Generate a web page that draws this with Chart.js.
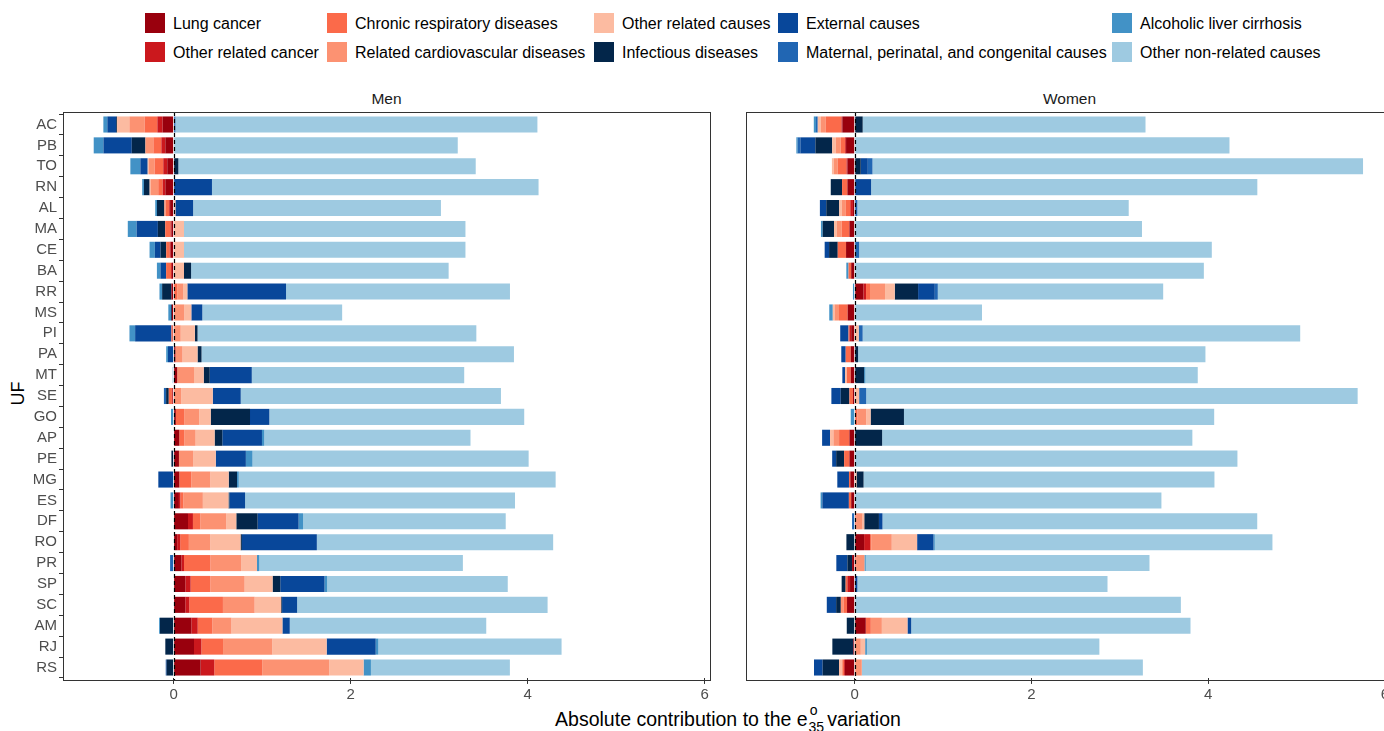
<!DOCTYPE html>
<html>
<head>
<meta charset="utf-8">
<script src="https://cdn.jsdelivr.net/npm/chart.js@4/dist/chart.umd.min.js"></script>
<style>
  html, body { margin: 0; padding: 0; background: #fff; overflow: hidden; }
  body { width: 1384px; height: 731px; position: relative; font-family: "Liberation Sans", Arial, sans-serif; }
  canvas { position: absolute; top: 0; }
  .sw { position: absolute; width: 20px; height: 20px; }
  .lt { position: absolute; font-size: 16px; color: #000; line-height: 22px; white-space: nowrap; }
  .strip { position: absolute; top: 90px; font-size: 15.5px; color: #1a1a1a; text-align: center; }
  .os { position: relative; display: inline-block; width: 1.0em; height: 1em; }
  .os .o { position: absolute; left: 0.15em; top: -0.28em; font-size: 0.72em; }
  .os .n { position: absolute; left: 0.05em; top: 0.9em; font-size: 0.72em; }
</style>
</head>
<body>
<div id="legend"></div>
<div class="strip" style="left:63px;width:647px">Men</div>
<div class="strip" style="left:746px;width:647px">Women</div>
<div style="position:absolute;left:-2px;top:383px;width:40px;text-align:center;font-size:18px;transform:rotate(-90deg);">UF</div>
<div style="position:absolute;left:428px;width:600px;top:706px;text-align:center;font-size:19.5px;white-space:nowrap;">Absolute contribution to the e<span class="os"><span class="o">o</span><span class="n">35</span></span>variation</div>
<canvas id="men" width="720" height="731" style="left:0"></canvas>
<canvas id="women" width="660" height="731" style="left:746px"></canvas>
<script>
// states, top to bottom
const states = ['AC','PB','TO','RN','AL','MA','CE','BA','RR','MS','PI','PA','MT','SE','GO','AP','PE','MG','ES','DF','RO','PR','SP','SC','AM','RJ','RS'];

const causes = ['Lung cancer','Other related cancer','Chronic respiratory diseases','Related cardiovascular diseases',
  'Other related causes','Infectious diseases','External causes','Maternal, perinatal, and congenital causes',
  'Alcoholic liver cirrhosis','Other non-related causes'];
const causeColors = ['#99000d','#cb181d','#fb6a4a','#fc9272','#fcbba1','#03264a','#08479a','#2166b3','#4292c6','#9ecae1'];

const xTicks = [0, 2, 4, 6];

// --- Men ---
const menLung = [-0.124,-0.094,-0.072,-0.094,-0.04,-0.025,-0.034,-0.02,-0.025,-0.02,-0.01,0.02,0.04,-0.01,0.025,0.064,0.06,0.064,0.06,0.162,0.04,0.087,0.132,0.132,0.2,0.23,0.305];
const menOtherCancer = [-0.06,-0.045,-0.045,-0.03,-0.01,-0.01,-0.01,-0.01,0,0,0,0,0,-0.01,0,0,0,0,0.015,0.056,0.034,0.03,0.06,0.045,0.072,0.083,0.154];
const menChronic = [-0.143,-0.09,-0.098,-0.05,-0.04,-0.06,-0.04,-0.055,0.04,0.01,-0.015,0,0,-0.035,0.094,0.056,0,0.136,0.035,0.083,0.098,0.298,0.222,0.38,0.166,0.245,0.542];
const menCardio = [-0.173,-0.09,-0.068,-0.087,-0.015,0,0,0,0.07,0.11,0.08,0.08,0.19,0.087,0.17,0.128,0.16,0.215,0.22,0.294,0.241,0.347,0.388,0.358,0.215,0.557,0.757];
const menOtherRelated = [-0.139,0,-0.01,-0.01,0.02,0.117,0.117,0.117,0.045,0.08,0.16,0.17,0.11,0.355,0.13,0.215,0.256,0.207,0.29,0.113,0.343,0.18,0.316,0.30,0.576,0.614,0.388];
const menInfectious = [-0.01,-0.154,0.053,-0.064,-0.083,-0.083,-0.064,0.08,-0.105,-0.01,0.03,0.045,0.068,-0.03,0.444,0.087,-0.025,0.094,0.01,0.241,0.015,0,0.087,0.01,-0.154,-0.094,-0.079];
const menExternal = [-0.10,-0.32,-0.083,0.433,0.20,-0.24,-0.064,-0.064,1.115,0.124,-0.41,-0.064,0.475,0.316,0.218,0.448,0.34,-0.173,0.177,0.463,0.847,0,0.5,0.17,0.083,0.554,-0.01];
const menMaternal = [0.02,0,0,0,0,0,0,0,0,0,0,0,0,-0.025,0,0,0,0,0,0,0,-0.04,0,0,0,0,0];
const menAlcoholic = [-0.045,-0.11,-0.113,-0.02,-0.02,-0.10,-0.06,-0.04,-0.03,-0.03,-0.064,-0.02,-0.01,0,-0.03,0.026,0.075,0.02,-0.035,0.05,0,0.026,0.03,0,-0.01,0.03,0.083];
const menOtherNonRelated = [4.09,3.21,3.36,3.69,2.80,3.18,3.18,2.91,2.53,1.58,3.15,3.53,2.40,2.94,2.88,2.33,3.12,3.58,3.05,2.29,2.67,2.30,2.04,2.83,2.22,2.07,1.57];

// --- Women ---
const womenLung = [-0.14,-0.098,-0.083,-0.083,-0.02,-0.06,-0.098,-0.04,0.098,-0.08,-0.04,-0.045,-0.045,-0.02,0,-0.06,-0.06,-0.05,-0.04,0,0.106,-0.03,-0.053,-0.087,0.125,-0.015,-0.11];
const womenOtherCancer = [-0.01,-0.01,-0.01,0,-0.03,0,0,0,0.03,0,-0.02,0,0,0,0,0,0,0,0,0,0.068,0,-0.03,0,0,0,-0.01];
const womenChronic = [-0.177,-0.05,-0.1,-0.06,-0.05,-0.087,-0.094,-0.03,0.045,-0.098,-0.01,-0.057,-0.045,-0.04,0.03,-0.117,-0.06,-0.015,-0.026,0.02,0.015,0.02,-0.02,-0.04,0.057,0,-0.02];
const womenCardio = [-0.057,-0.057,-0.045,0,-0.045,-0.057,0,0,0.17,-0.05,0,0,0,0,0.1,-0.064,0,0,0,0.068,0.23,0.09,0,-0.03,0.125,0.068,0.08];
const womenOtherRelated = [-0.034,-0.04,-0.02,0,-0.03,-0.03,0,0,0.11,-0.02,0.045,0,-0.02,0.05,0.05,-0.038,0,0.02,0,0.02,0.287,0,0,0,0.29,0.05,-0.038];
const womenInfectious = [0.09,-0.19,0.068,-0.128,-0.147,-0.128,-0.098,0,0.264,0,0,0.038,0.106,-0.098,0.377,0.31,-0.09,0.08,0,0.166,-0.094,-0.053,-0.045,-0.053,-0.09,-0.238,-0.185];
const womenExternal = [0,-0.17,0.08,0.185,-0.072,0,-0.05,0,0.189,0,-0.094,-0.05,-0.03,-0.106,0,-0.09,-0.045,-0.132,-0.30,0.04,0.185,-0.125,0.03,-0.106,0.042,0,-0.098];
const womenMaternal = [-0.02,-0.03,0.053,0,0.03,0,0.05,0,0.034,0,0.045,0,0,0.08,0,0,0,0,0,-0.03,0,0,0,0,0,0,0];
const womenAlcoholic = [-0.025,-0.015,0,0,0,-0.02,0,-0.025,-0.02,-0.04,0,0,0.015,0,-0.045,0,0,0,-0.02,0,0.015,0.015,0,0,0,0.02,0];
const womenOtherNonRelated = [3.20,4.24,5.55,4.37,3.07,3.25,3.99,3.95,2.55,1.44,4.95,3.93,3.76,5.56,3.51,3.51,4.33,3.97,3.47,4.24,3.82,3.21,2.83,3.69,3.16,2.63,3.18];

const menSeries = [menLung, menOtherCancer, menChronic, menCardio, menOtherRelated, menInfectious, menExternal, menMaternal, menAlcoholic, menOtherNonRelated];
const womenSeries = [womenLung, womenOtherCancer, womenChronic, womenCardio, womenOtherRelated, womenInfectious, womenExternal, womenMaternal, womenAlcoholic, womenOtherNonRelated];

// legend (ggplot puts it in 5 columns, filled column by column)
const legendCols = [145, 327, 594, 778, 1112];
const legendRows = [13, 42];
const legendBox = document.getElementById('legend');
causes.forEach(function (name, i) {
    const x = legendCols[Math.floor(i / 2)];
    const y = legendRows[i % 2];
    const sw = document.createElement('div');
    sw.className = 'sw';
    sw.style.left = x + 'px';
    sw.style.top = y + 'px';
    sw.style.background = causeColors[i];
    legendBox.appendChild(sw);
    const t = document.createElement('div');
    t.className = 'lt';
    t.style.left = (x + 28) + 'px';
    t.style.top = y + 'px';
    t.textContent = name;
    legendBox.appendChild(t);
});

// panel frame and dashed zero line
const panelPlugin = {
    id: 'panel',
    afterDatasetsDraw(chart) {
        const ctx = chart.ctx;
        const a = chart.chartArea;
        const band = (a.bottom - a.top) / states.length;
        const top = a.top - band * 0.1;
        const bottom = a.bottom + band * 0.1;
        const x0 = Math.round(chart.scales.x.getPixelForValue(0)) + 0.5;
        ctx.save();
        ctx.strokeStyle = '#000';
        ctx.lineWidth = 1.2;
        ctx.setLineDash([4, 3]);
        ctx.beginPath();
        ctx.moveTo(x0, top);
        ctx.lineTo(x0, bottom);
        ctx.stroke();
        ctx.setLineDash([]);
        ctx.strokeStyle = '#333';
        ctx.lineWidth = 1;
        ctx.strokeRect(Math.round(a.left) + 0.5, Math.round(top) + 0.5, Math.round(a.right - a.left), Math.round(bottom - top));
        ctx.restore();
    }
};

Chart.defaults.font.family = '"Liberation Sans", Arial, sans-serif';

function makePanel(canvasId, series, xMin, xMax, showY, padRight) {
    const datasets = series.map(function (values, i) {
        return {
            label: causes[i],
            data: values,
            backgroundColor: causeColors[i],
            borderWidth: 0,
            barPercentage: 0.77,
            categoryPercentage: 1.0
        };
    });
    return new Chart(document.getElementById(canvasId), {
        type: 'bar',
        data: { labels: states, datasets: datasets },
        options: {
            indexAxis: 'y',
            responsive: false,
            animation: false,
            events: [],
            layout: { padding: { top: 114.06, bottom: 731 - 677.94 - 30, left: 0, right: padRight } },
            plugins: { legend: { display: false }, tooltip: { enabled: false } },
            scales: {
                x: {
                    stacked: true,
                    min: xMin,
                    max: xMax,
                    afterBuildTicks: function (scale) {
                        scale.ticks = xTicks.map(function (v) { return { value: v }; });
                    },
                    afterFit: function (scale) { scale.height = 30; },
                    grid: { drawOnChartArea: false, tickLength: 6, color: '#333' },
                    border: { display: false },
                    ticks: { color: '#4d4d4d', font: { size: 15 }, padding: 2, maxRotation: 0 }
                },
                y: {
                    stacked: true,
                    display: showY,
                    afterFit: function (scale) { scale.width = showY ? 63 : 0; },
                    grid: { drawOnChartArea: false, tickLength: 4, color: '#333' },
                    border: { display: false },
                    ticks: { color: '#4d4d4d', font: { size: 15 }, padding: 2, autoSkip: false }
                }
            }
        },
        plugins: [panelPlugin]
    });
}

makePanel('men', menSeries, -1.25, 6.06, true, 10);
makePanel('women', womenSeries, -1.23, 6.09, false, 13);
</script>
</body>
</html>
